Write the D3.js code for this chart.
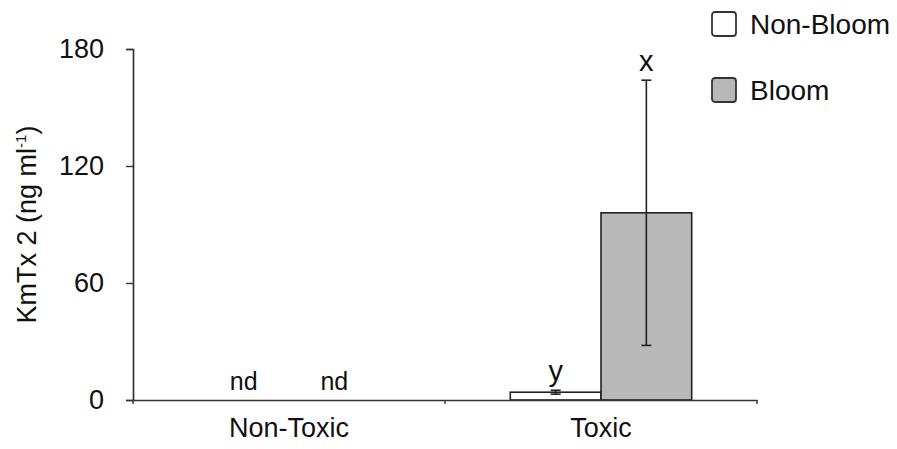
<!DOCTYPE html>
<html>
<head>
<meta charset="utf-8">
<script src="https://cdn.jsdelivr.net/npm/d3@7"></script>
<style>
  body { margin: 0; background: #fff; }
  svg text { font-family: "Liberation Sans", Arial, sans-serif; fill: #111; }
</style>
</head>
<body>
<div class="chart"></div>
<script>
// values
var categories = ["Non-Toxic", "Toxic"],
    seriesNames = ["Non-Bloom", "Bloom"],
    nonBloomMean = [0, 4],
    nonBloomErr = [0, 1],
    bloomMean = [0, 96],
    bloomErr = [0, 68],
    nonBloomLetters = ["nd", "y"],
    bloomLetters = ["nd", "x"],
    yTicks = [0, 60, 120, 180];

var width = 897, height = 449,
    margin = {top: 49, right: 140, bottom: 49, left: 133},
    fills = {"Non-Bloom": "#ffffff", "Bloom": "#b8b8b8"};

var svg = d3.select(".chart").append("svg")
  .attr("width", width)
  .attr("height", height);

const x = d3.scaleBand()
  .domain(categories)
  .range([margin.left, width - margin.right])
  .paddingInner(0)
  .paddingOuter(0);

const xs = d3.scaleBand()
  .domain(seriesNames)
  .range([0, x.bandwidth()])
  .paddingInner(0)
  .paddingOuter(0.72);

const y = d3.scaleLinear()
  .domain([0, 180])
  .range([height - margin.bottom, margin.top]);

var rows = categories.map((c, i) => {
  return [
    {cat: c, s: "Non-Bloom", v: nonBloomMean[i], e: nonBloomErr[i], lab: nonBloomLetters[i]},
    {cat: c, s: "Bloom", v: bloomMean[i], e: bloomErr[i], lab: bloomLetters[i]}
  ];
});
var flat = rows.reduce((acc, r) => acc.concat(r), []);

// bars
svg.append("g").selectAll("rect")
  .data(flat)
  .enter().append("rect")
  .attr("x", d => x(d.cat) + xs(d.s))
  .attr("y", d => y(d.v))
  .attr("width", xs.bandwidth())
  .attr("height", d => y(0) - y(d.v))
  .attr("fill", d => fills[d.s])
  .attr("stroke", "#222")
  .attr("stroke-width", 1.6);

// error bars
var eb = svg.append("g").attr("stroke", "#222").attr("stroke-width", 1.6);
flat.filter(d => d.e > 0).forEach(d => {
  let cx = x(d.cat) + xs(d.s) + xs.bandwidth() / 2;
  eb.append("line").attr("x1", cx).attr("x2", cx)
    .attr("y1", y(d.v + d.e)).attr("y2", y(d.v - d.e));
  [d.v + d.e, d.v - d.e].forEach(v => {
    eb.append("line").attr("x1", cx - 5).attr("x2", cx + 5)
      .attr("y1", y(v)).attr("y2", y(v));
  });
});

// letters above bars
svg.append("g").selectAll("text")
  .data(flat)
  .enter().append("text")
  .attr("x", d => x(d.cat) + xs(d.s) + xs.bandwidth() / 2)
  .attr("y", d => d.lab == "nd" ? y(0) - 10 : y(d.v + d.e) - 9)
  .attr("text-anchor", "middle")
  .style("font-size", d => d.lab == "nd" ? "25px" : "29px")
  .text(d => d.lab);

// y axis
var yAxis = svg.append("g")
  .attr("transform", `translate(${margin.left},0)`)
  .call(d3.axisLeft(y).tickValues(yTicks).tickSize(7).tickPadding(22));
yAxis.select(".domain").attr("stroke", "#333").attr("stroke-width", 1.7);
yAxis.selectAll(".tick line").attr("stroke", "#333").attr("stroke-width", 1.4);
yAxis.selectAll("text").style("font-size", "27px").attr("fill", "#111")
  .style("font-family", "'Liberation Sans', Arial, sans-serif");

// x axis
var xAxis = svg.append("g")
  .attr("transform", `translate(0,${y(0)})`)
  .call(d3.axisBottom(x).tickSize(0).tickPadding(18));
xAxis.select(".domain").attr("stroke", "#333").attr("stroke-width", 1.7);
xAxis.selectAll("text").style("font-size", "27px").attr("fill", "#111")
  .style("font-family", "'Liberation Sans', Arial, sans-serif");
// boundary ticks
svg.append("g").selectAll("line")
  .data(x.range().concat([x(categories[1])]))
  .enter().append("line")
  .attr("x1", d => d).attr("x2", d => d)
  .attr("y1", y(0)).attr("y2", y(0) + 4)
  .attr("stroke", "#333").attr("stroke-width", 1.4);

// y title
var yt = svg.append("text")
  .attr("transform", `translate(36,${(y(0) + y(180)) / 2}) rotate(-90)`)
  .attr("text-anchor", "middle")
  .style("font-size", "27px");
yt.append("tspan").text("KmTx 2 (ng ml");
yt.append("tspan").attr("dy", -10).style("font-size", "15px").text("-1");
yt.append("tspan").attr("dy", 10).text(")");

// legend
var legend = svg.append("g").attr("transform", "translate(712,12)");
seriesNames.forEach((s, i) => {
  let g = legend.append("g").attr("transform", `translate(0,${i * 66})`);
  g.append("rect")
    .attr("width", 24).attr("height", 24)
    .attr("rx", 3)
    .attr("fill", fills[s])
    .attr("stroke", "#333").attr("stroke-width", 1.8);
  g.append("text")
    .attr("x", 38).attr("y", 22)
    .style("font-size", "28px")
    .text(s);
});
</script>
</body>
</html>
